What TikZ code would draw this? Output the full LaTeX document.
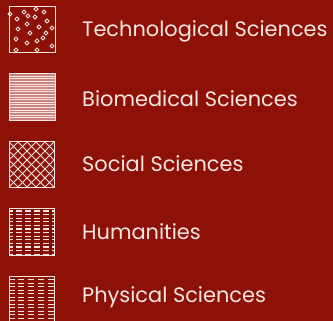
\documentclass[tikz,border=0pt]{standalone}
\usepackage{fontspec}
\setmainfont{Poppins}
\definecolor{bg}{RGB}{142,17,8}
\definecolor{fg}{RGB}{246,230,226}
\definecolor{pinkfill}{RGB}{205,130,125}
\definecolor{darkbar}{RGB}{125,12,5}
\begin{document}
\begin{tikzpicture}[x=1pt,y=-1pt,
  lbl/.style={anchor=base west,text=fg,font=\fontsize{20.9}{22}\selectfont,inner sep=0pt},
  frame/.style={draw=fg,line width=1pt},
  ring/.style={draw=fg,line width=0.9pt},
  wline/.style={draw=fg,line width=0.9pt}]
\fill[bg] (0,0) rectangle (333,321);
\useasboundingbox (0,0) rectangle (333,321);
% Box 1: rings
\foreach \x/\y in {24/12,36/9,44/12,17/19,35/17,47/21,27/24,39/27,18/29,30/33,46/33,16/39,27/43,43/38,37/41,16/50,37/50,52/28,52/46,28/16,10/14}
  \draw[ring] (\x,\y) circle (1.9);
\draw[frame] (9,7) rectangle (55,53);
% Box 2: pink with lines
\fill[pinkfill] (9,74) rectangle (55,121);
\foreach \k in {0,...,17} \draw[draw=fg,line width=0.35pt] (9,{76+\k*2.6}) -- (55,{76+\k*2.6});
\draw[frame] (9,74) rectangle (55,121);
% Box 3: crosshatch
\begin{scope}
\clip (9,142) rectangle (54,188);
\foreach \k in {-6,...,6} {
  \draw[wline] ({9+\k*9},142) -- ({9+\k*9+46},188);
  \draw[wline] ({54-\k*9},142) -- ({54-\k*9-46},188);
}
\end{scope}
\draw[frame] (9,142) rectangle (54,188);
% Box 4: bricks
\foreach \k in {0,...,12} \draw[draw=fg,line width=1.1pt] (9,{211+\k*3.6}) -- (54,{211+\k*3.6});
\foreach \x in {14,23,32,41,50} \fill[darkbar] ({\x-1.5},209) rectangle ({\x+1.5},256);
\draw[frame] (9,209) rectangle (54,256);
% Box 5: dashes
\foreach \x in {12,21,31,41,51} \foreach \k in {0,...,12}
  \draw[draw=fg,line width=1pt] ({\x-3},{280+\k*3.5}) -- ({\x+3},{280+\k*3.5});
\draw[frame] (9,322) -- (9,277) -- (54,277) -- (54,322);
% Labels
\node[lbl] (t1) at (82,37) {Technological Sciences};
\node[lbl] (t2) at (82,107) {Biomedical Sciences};
\node[lbl] (t3) at (82,172) {Social Sciences};
\node[lbl] (t4) at (82,240) {Humanities};
\node[lbl] (t5) at (82,303) {Physical Sciences};
\end{tikzpicture}
\end{document}
